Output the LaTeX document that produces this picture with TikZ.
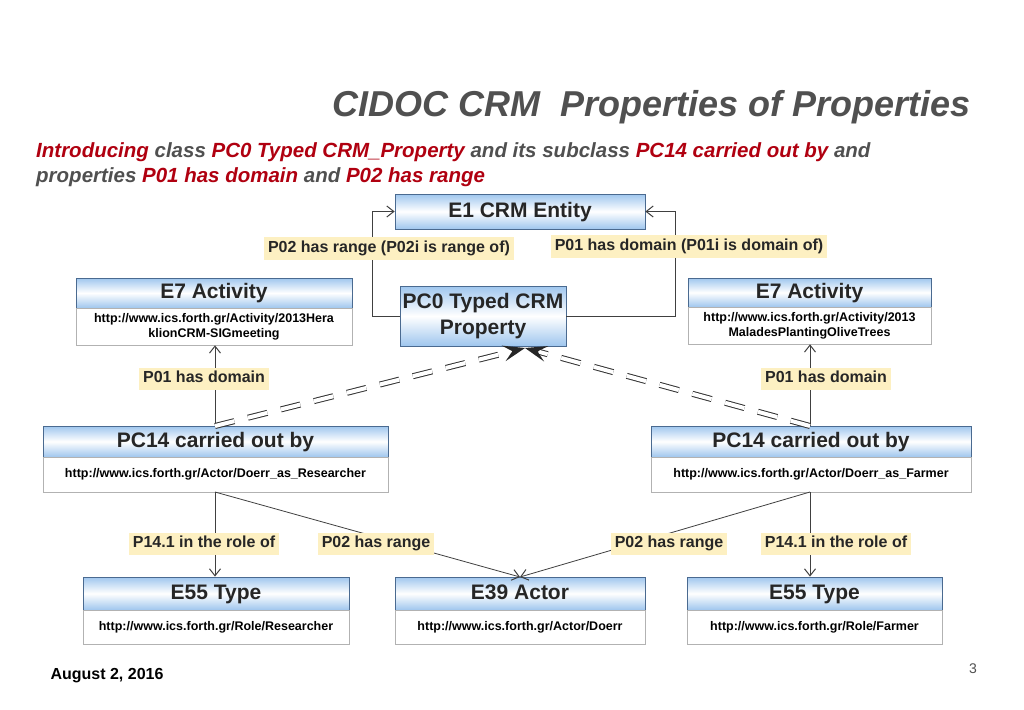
\documentclass[tikz,border=0pt]{standalone}
\usepackage{fontspec}
\setmainfont{Liberation Sans}
\usetikzlibrary{arrows.meta,calc}
\definecolor{bl}{HTML}{9FC6EE}
\definecolor{bd}{HTML}{4A6A90}
\definecolor{yl}{HTML}{FDF0C2}
\definecolor{rd}{HTML}{B00010}
\definecolor{gt}{HTML}{505050}
\tikzset{
 hdr/.style={draw=bd,line width=0.8pt,top color=bl,bottom color=bl,middle color=white,inner sep=0pt,text height=14pt,text depth=3pt,font=\bfseries\fontsize{21}{23}\selectfont,text=black!85},
 bodyb/.style={draw=black!30,line width=0.6pt,fill=white,inner sep=0pt,align=center,font=\bfseries\fontsize{12.5}{15}\selectfont},
 lbl/.style={fill=yl,inner sep=4pt,text height=11pt,text depth=3.5pt,font=\bfseries\fontsize{16}{18}\selectfont,text=black!85},
 con/.style={draw=black!75,line width=0.8pt},
 arr/.style={con,-{Straight Barb[length=7pt,width=11pt,line width=1pt]}},
 dbl/.style={draw=black!80,line width=1pt,double=white,double distance=4pt,dash pattern=on 20pt off 14pt}
}
\begin{document}
\begin{tikzpicture}[x=1pt,y=-1pt]
\useasboundingbox (0,0) rectangle (1024,709);
\fill[white] (0,0) rectangle (1024,709);
% titles
\node[anchor=east,font=\bfseries\itshape\fontsize{36}{38}\selectfont,text=gt] (title) at (974,107) {CIDOC CRM\ \ Properties of Properties};
\node[anchor=north west,align=left,font=\bfseries\itshape\fontsize{20.5}{25}\selectfont,text=gt,inner sep=0pt] (sub) at (36,142) {\textcolor{rd}{Introducing} class \textcolor{rd}{PC0 Typed CRM\_Property} and its subclass \textcolor{rd}{PC14 carried out by} and\\ properties \textcolor{rd}{P01 has domain} and \textcolor{rd}{P02 has range}};
% boxes
\node[hdr,minimum width=250,minimum height=35] (e1) at (520,211.5) {E1 CRM Entity};
\node[hdr,minimum width=166,minimum height=60,align=center,text height=,text depth=,font=\bfseries\fontsize{21}{26}\selectfont] (pc0) at (483,316) {PC0 Typed CRM\\Property};
\node[hdr,minimum width=276,minimum height=30] (e7l) at (214,293) {E7 Activity};
\node[bodyb,minimum width=276,minimum height=37] (e7lb) at (214,326.5) {http://www.ics.forth.gr/Activity/2013Hera\\klionCRM-SIGmeeting};
\node[hdr,minimum width=243,minimum height=29] (e7r) at (809.5,292.5) {E7 Activity};
\node[bodyb,minimum width=243,minimum height=37] (e7rb) at (809.5,325.5) {http://www.ics.forth.gr/Activity/2013\\MaladesPlantingOliveTrees};
\node[hdr,minimum width=345,minimum height=31] (pc14l) at (215.5,441.5) {PC14 carried out by};
\node[bodyb,minimum width=345,minimum height=35] (pc14lb) at (215.5,474.5) {http://www.ics.forth.gr/Actor/Doerr\_as\_Researcher};
\node[hdr,minimum width=320,minimum height=31] (pc14r) at (811,441.5) {PC14 carried out by};
\node[bodyb,minimum width=320,minimum height=35] (pc14rb) at (811,474.5) {http://www.ics.forth.gr/Actor/Doerr\_as\_Farmer};
\node[hdr,minimum width=266,minimum height=33] (e55l) at (216,593.5) {E55 Type};
\node[bodyb,minimum width=266,minimum height=34] (e55lb) at (216,627) {http://www.ics.forth.gr/Role/Researcher};
\node[hdr,minimum width=250,minimum height=33] (e39) at (520,593.5) {E39 Actor};
\node[bodyb,minimum width=250,minimum height=34] (e39b) at (520,627) {http://www.ics.forth.gr/Actor/Doerr};
\node[hdr,minimum width=255,minimum height=33] (e55r) at (814.5,593.5) {E55 Type};
\node[bodyb,minimum width=255,minimum height=34] (e55rb) at (814.5,627) {http://www.ics.forth.gr/Role/Farmer};
% connectors top
\coordinate (cl) at (372,316);
\coordinate (cr) at (675,316);
\draw[arr] (pc0.west |- cl) -- (cl) -- (cl |- e1.west) -- (e1.west);
\draw[arr] (pc0.east |- cr) -- (cr) -- (cr |- e1.east) -- (e1.east);
% P01 domain
\coordinate (dl) at (215,426);
\coordinate (dr) at (810,426);
\draw[arr] (dl) -- (dl |- e7lb.south);
\draw[arr] (dr) -- (dr |- e7rb.south);
% double dashed
\coordinate (tip) at (525,348);
\draw[dbl] (dl) -- ($(tip)!14pt!(dl)$);
\draw[dbl] (dr) -- ($(tip)!14pt!(dr)$);
\fill[black!85] (tip) -- ($(tip)!22pt!(dl)!8pt!90:(dl)$) -- ($(tip)!13pt!(dl)$) -- ($(tip)!22pt!(dl)!8pt!-90:(dl)$) -- cycle;
\fill[black!85] (tip) -- ($(tip)!22pt!(dr)!8pt!90:(dr)$) -- ($(tip)!13pt!(dr)$) -- ($(tip)!22pt!(dr)!8pt!-90:(dr)$) -- cycle;
% bottom
\coordinate (bl) at (215,492);
\coordinate (br) at (810,492);
\coordinate (at) at (520,577);
\draw[arr] (bl) -- (bl |- e55l.north);
\draw[arr] (bl) -- (at);
\draw[arr] (br) -- (br |- e55r.north);
\draw[arr] (br) -- (at);
% labels
\node[lbl] (l1) at (389,248.5) {P02 has range (P02i is range of)};
\node[lbl] (l2) at (689,246.5) {P01 has domain (P01i is domain of)};
\node[lbl] (l3) at (204,379) {P01 has domain};
\node[lbl] (l4) at (826,379) {P01 has domain};
\node[lbl] (l5) at (204,544) {P14.1 in the role of};
\node[lbl] (l6) at (376,544) {P02 has range};
\node[lbl] (l7) at (669,544) {P02 has range};
\node[lbl] (l8) at (836,544) {P14.1 in the role of};
% footer
\node[anchor=west,font=\bfseries\fontsize{16}{18}\selectfont] (date) at (47,676) {August 2, 2016};
\node[font=\fontsize{14}{16}\selectfont,text=gt] (pg) at (973,669) {3};
\end{tikzpicture}
\end{document}
